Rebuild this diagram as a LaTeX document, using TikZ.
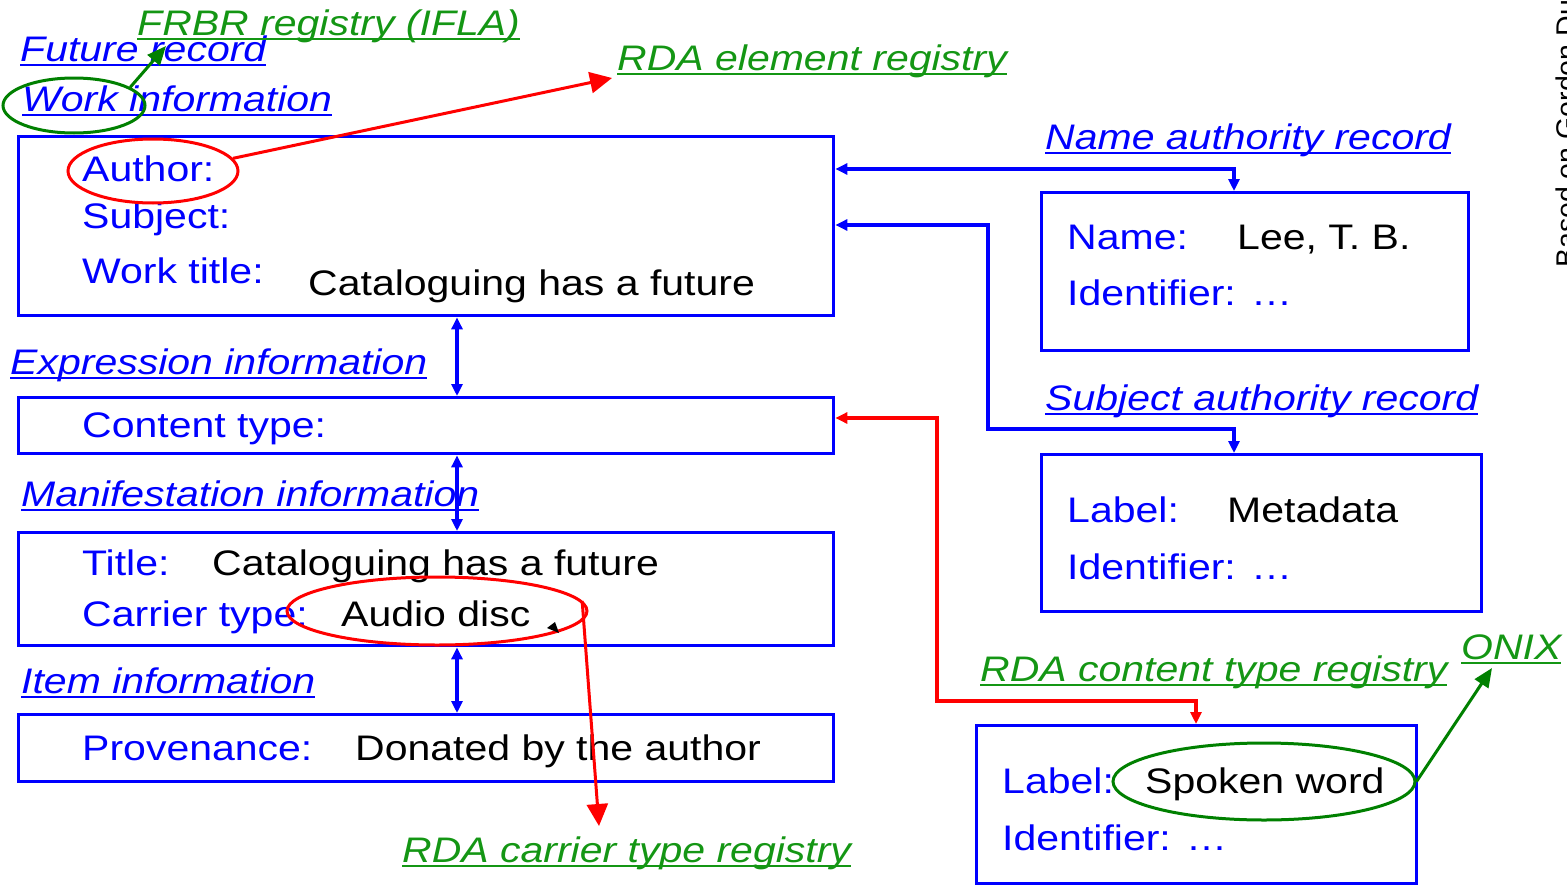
\documentclass[tikz,border=0pt]{standalone}
\usepackage{fontspec}
\setmainfont{Liberation Sans}[FakeStretch=1.155]
\newfontfamily\plainsf{Liberation Sans}
\usetikzlibrary{shapes.geometric,arrows.meta}
\definecolor{bl}{RGB}{0,0,255}
\definecolor{rd}{RGB}{255,0,0}
\definecolor{gtext}{RGB}{20,150,20}
\definecolor{gline}{RGB}{0,128,0}
\newsavebox\ulbox
\newcommand\ulx[1]{\sbox\ulbox{#1}\rlap{\rule[-5pt]{\wd\ulbox}{2.2pt}}\usebox\ulbox}
\begin{document}
\begin{tikzpicture}[x=1pt,y=-1pt,
  box/.style={draw=bl, line width=3.4pt, anchor=north west, inner sep=0pt},
  txt/.style={anchor=base west, inner sep=0pt, font=\fontsize{35.5}{40}\selectfont},
  lab/.style={txt, text=bl},
  val/.style={txt, text=black},
  hdr/.style={txt, text=bl, font=\fontsize{35.5}{40}\selectfont\itshape},
  reg/.style={hdr, text=gtext},
  ell/.style={ellipse, draw, line width=3pt, inner sep=0pt},
  barr/.style={draw=bl, line width=3.2pt, {Triangle[length=12pt,width=11pt]}-{Triangle[length=12pt,width=11pt]}},
  rarr/.style={draw=rd, line width=3.2pt, {Triangle[length=12pt,width=11pt]}-{Triangle[length=12pt,width=11pt]}},
  bigred/.style={draw=rd, line width=3pt, -{Triangle[length=22pt,width=21pt]}},
  garr/.style={draw=gline, line width=3pt, -{Triangle[length=19pt,width=16pt]}}
]
\useasboundingbox (0,0) rectangle (1567,886);
\clip (0,0) rectangle (1567,886);

% boxes
\node[box, minimum width=815pt, minimum height=179pt] (work) at (17,135) {};
\node[box, minimum width=815pt, minimum height=56pt] (content) at (17,396) {};
\node[box, minimum width=815pt, minimum height=113pt] (manif) at (17,531) {};
\node[box, minimum width=815pt, minimum height=67pt] (item) at (17,713) {};
\node[box, minimum width=427pt, minimum height=158pt] (namebox) at (1040,191) {};
\node[box, minimum width=440pt, minimum height=157pt] (subjbox) at (1040,453) {};
\node[box, minimum width=440pt, minimum height=158pt] (ctbox) at (975,724) {};

% headings
\node[hdr] (futrec) at (20,61) {\ulx{Future record}};
\node[reg] (frbr) at (137,35) {\ulx{FRBR registry (IFLA)}};
\node[hdr] (workinfo) at (22,111) {\ulx{Work information}};
\node[reg] (rdael) at (617,70) {\ulx{RDA element registry}};
\node[hdr] (nameauth) at (1045,149) {\ulx{Name authority record}};
\node[hdr] (expr) at (10,374) {\ulx{Expression information}};
\node[hdr] (subjauth) at (1045,410) {\ulx{Subject authority record}};
\node[hdr] (manifinfo) at (21,506) {\ulx{Manifestation information}};
\node[reg] (onix) at (1461,659) {\ulx{ONIX}};
\node[reg] (rdact) at (980,681) {\ulx{RDA content type registry}};
\node[hdr] (iteminfo) at (21,693) {\ulx{Item information}};
\node[reg] (rdacarr) at (402,862) {\ulx{RDA carrier type registry}};

% box contents
\node[lab] (author) at (82,181) {Author:};
\node[lab] (subject) at (82,228) {Subject:};
\node[lab] (worktitle) at (82,283) {Work title:};
\node[val] (wtval) at (308,295) {Cataloguing has a future};
\node[lab] (name) at (1067,249) {Name:};
\node[val] (lee) at (1237,249) {Lee, T. B.};
\node[lab] (ident1) at (1067,305) {Identifier: …};
\node[lab] (ctype) at (82,437) {Content type:};
\node[lab] (label1) at (1067,522) {Label:};
\node[val] (meta) at (1227,522) {Metadata};
\node[lab] (title) at (82,575) {Title:};
\node[val] (titval) at (212,575) {Cataloguing has a future};
\node[lab] (ident2) at (1067,579) {Identifier: …};
\node[lab] (carrier) at (82,626) {Carrier type:};
\node[val] (audio) at (341,626) {Audio disc};
\node[lab] (prov) at (82,760) {Provenance:};
\node[val] (provval) at (355,760) {Donated by the author};
\node[lab] (label2) at (1002,793) {Label:};
\node[val] (spoken) at (1145,793) {Spoken word};
\node[lab] (ident3) at (1002,850) {Identifier: …};

% side note (cut off at the page edge, as in the reference)
\node[rotate=90, anchor=base west, inner sep=0pt, font=\plainsf\fontsize{28.5}{30}\selectfont] (note) at (1576,268) {Based on Gordon Dunsire};

% ellipses
\node[ell, draw=gline, minimum width=142pt, minimum height=55pt] (workE) at (74,105.5) {};
\node[ell, draw=rd, minimum width=170pt, minimum height=64pt] (authE) at (153,171) {};
\node[ell, draw=rd, minimum width=300pt, minimum height=68pt] (audioE) at (437,611) {};
\node[ell, draw=gline, minimum width=302pt, minimum height=77pt] (spokenE) at (1264,781.5) {};

% free ends
\coordinate (futtip) at (166,46);
\coordinate (rdatip) at (612,78);
\coordinate (cartip) at (599,826);
\coordinate (onixtip) at (1492,668);
\coordinate (vx) at (457,0);

% connectors
\draw[barr] (vx |- work.south) -- (vx |- content.north);
\draw[barr] (vx |- content.south) -- (vx |- manif.north);
\draw[barr] (vx |- manif.south) -- (vx |- item.north);
\draw[barr] ([yshift=-34pt]work.north east) -| ([xshift=194pt]namebox.north west);
\draw[barr] ([yshift=-90pt]work.north east) -- (988,225) -- (988,429) -| ([xshift=194pt]subjbox.north west);
\draw[rarr] ([yshift=-22pt]content.north east) -- (937,418) -- (937,701) -| ([xshift=221pt]ctbox.north west);

\draw[garr] (workE.18) -- (futtip);
\draw[bigred] (authE.9) -- (rdatip);
\draw[bigred] (audioE.4) -- (cartip);
\draw[garr] (spokenE.east) -- (onixtip);
\fill[black] (547,628) -- (555,622) -- (559,633) -- cycle;
\end{tikzpicture}
\end{document}
